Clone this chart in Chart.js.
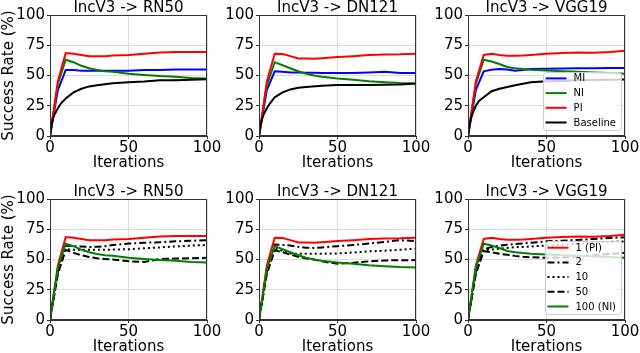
<!DOCTYPE html>
<html>
<head>
<meta charset="utf-8">
<script src="https://cdn.jsdelivr.net/npm/chart.js@4/dist/chart.umd.min.js"></script>
<style>
  html, body { margin: 0; padding: 0; background: #fff; width: 640px; height: 353px; overflow: hidden; }
  canvas { position: absolute; }
</style>
</head>
<body>
<script>
// --- Data ---
const targets = ['RN50', 'DN121', 'VGG19'];
const itersAttack = [0, 5, 10, 15, 20, 25, 30, 35, 40, 50, 60, 70, 80, 90, 100];
const itersBase = [0, 1, 2, 3, 5, 7, 10, 15, 20, 25, 30, 40, 50, 60, 70, 80, 90, 100];
const xTicks = [0, 50, 100];
const yTicks = [0, 25, 50, 75, 100];

// top row: MI / NI / PI / Baseline
const miRN50 = [0, 38, 54.5, 54.5, 54, 54, 54, 54, 54, 54, 54.5, 54.5, 55, 55, 55];
const niRN50 = [0, 43, 63, 61, 58, 56, 54.5, 53.5, 53, 51.5, 50.5, 49.5, 49, 48, 47.5];
const piRN50 = [0, 45, 68.5, 68, 67, 66, 66, 66, 66.5, 67, 68, 69, 69.5, 69.5, 69.5];
const baseRN50 = [0, 9, 15, 18, 23, 27, 31, 36, 39, 41, 42, 43.5, 44.5, 45, 46, 46, 46.5, 47];

const miDN121 = [0, 38, 53.5, 53, 52.5, 52.5, 52.3, 52.3, 52, 52, 52, 52.5, 53, 52, 52];
const niDN121 = [0, 42, 61, 58.5, 56, 53.5, 51.5, 50, 49, 47.5, 46.5, 45.3, 44.5, 43.7, 43.3];
const piDN121 = [0, 45, 68, 67.7, 66, 64, 64, 63.8, 64.2, 65.2, 66, 67, 67.3, 67.5, 68];
const baseDN121 = [0, 9, 14, 18, 23, 27, 32, 36, 38.5, 39.8, 40.5, 41.5, 42.2, 42.2, 42.2, 42.4, 42.5, 43.3];

const miVGG19 = [0, 38, 53.5, 54.8, 55.3, 55, 54, 54.5, 55.3, 55.6, 55.8, 56, 56, 56.2, 56.2];
const niVGG19 = [0, 43, 63, 61.5, 59.5, 57, 56, 55.3, 54.8, 54.2, 53.5, 53, 52.5, 52, 51.5];
const piVGG19 = [0, 45, 67, 67.9, 67, 66.3, 66.3, 66.5, 67, 68, 68.5, 69, 68.8, 69.5, 70.5];
const baseVGG19 = [0, 9, 15, 19, 25, 29, 32, 37, 39, 40.5, 42, 44.4, 45.2, 45.5, 46, 46.2, 46.4, 46.6];

// bottom row: step counts 2 / 10 / 50 (1 = PI, 100 = NI)
const s2RN50 = [0, 40, 61.5, 61, 60.7, 60.4, 60.5, 61, 62, 63.2, 63.8, 64.3, 65, 65.5, 65.9];
const s10RN50 = [0, 40, 58.5, 58, 58, 58, 58, 58, 58.2, 58.5, 59.3, 60, 60.8, 61.5, 62];
const s50RN50 = [0, 38, 58, 55.5, 53.5, 52, 51, 50.5, 50, 48.5, 48, 50.3, 50.8, 51, 51.4];

const s2DN121 = [0, 40, 62.4, 62, 61.5, 60.5, 59.8, 59.6, 60, 61, 62, 63.2, 64.5, 66, 65.1];
const s10DN121 = [0, 40, 59.6, 57, 55, 54.7, 54.7, 54.8, 54.8, 55, 55.8, 56.7, 57.3, 58, 59];
const s50DN121 = [0, 38, 57.7, 56, 54, 52.3, 50.8, 50, 48.5, 46.4, 47.3, 48.5, 49.2, 49.4, 49.5];

const s2VGG19 = [0, 40, 58.2, 60.4, 61.5, 62.2, 62.8, 63.2, 63.8, 65, 65.5, 66.2, 67, 67.8, 68.4];
const s10VGG19 = [0, 40, 57.7, 58.3, 59, 59.6, 60.2, 60.4, 60.8, 61.5, 62.2, 63, 63.8, 64.5, 65];
const s50VGG19 = [0, 38, 56.9, 56, 54.7, 54, 53, 52.2, 51.8, 51.4, 51.7, 52.5, 53.5, 54.5, 55.5];

const topSeries = {
  RN50: [miRN50, niRN50, piRN50, baseRN50],
  DN121: [miDN121, niDN121, piDN121, baseDN121],
  VGG19: [miVGG19, niVGG19, piVGG19, baseVGG19]
};
const bottomSeries = {
  RN50: [piRN50, s2RN50, s10RN50, s50RN50, niRN50],
  DN121: [piDN121, s2DN121, s10DN121, s50DN121, niDN121],
  VGG19: [piVGG19, s2VGG19, s10VGG19, s50VGG19, niVGG19]
};

const topLabels = ['MI', 'NI', 'PI', 'Baseline'];
const bottomLabels = ['1 (PI)', '2', '10', '50', '100 (NI)'];

// --- Styles ---
const FONT = "'DejaVu Sans', sans-serif";
const topStyles = [
  { color: '#0000ff', dash: [] },
  { color: '#008000', dash: [] },
  { color: '#ff0000', dash: [] },
  { color: '#000000', dash: [] }
];
const bottomStyles = [
  { color: '#ff0000', dash: [] },
  { color: '#000000', dash: [7, 3, 2, 3] },
  { color: '#000000', dash: [2, 3] },
  { color: '#000000', dash: [7, 3] },
  { color: '#008000', dash: [] }
];

const plotLefts = [50, 259, 468];
const plotTops = [15, 199];
const plotW = 157, plotH = 121;
const yAxisW = 50, xAxisH = 36, titleH = 16, rightPad = 18;

const framePlugin = {
  id: 'frame',
  afterDatasetsDraw(chart) {
    const a = chart.chartArea, ctx = chart.ctx;
    ctx.save();
    ctx.strokeStyle = '#333';
    ctx.lineWidth = 1;
    ctx.strokeRect(Math.round(a.left) + 0.5, Math.round(a.top) + 0.5,
      Math.round(a.right - a.left) - 1, Math.round(a.bottom - a.top) - 1);
    ctx.restore();
  }
};

function titlePlugin(text) {
  return {
    id: 'panelTitle',
    afterDraw(chart) {
      const a = chart.chartArea, ctx = chart.ctx;
      ctx.save();
      ctx.font = '15px ' + FONT;
      ctx.fillStyle = '#000';
      ctx.textAlign = 'center';
      ctx.textBaseline = 'alphabetic';
      ctx.fillText(text, (a.left + a.right) / 2, a.top - 3);
      ctx.restore();
    }
  };
}

function legendPlugin(labels, styles) {
  return {
    id: 'boxLegend',
    afterDraw(chart) {
      const a = chart.chartArea, ctx = chart.ctx;
      ctx.save();
      ctx.font = '10px ' + FONT;
      const rowH = 14.7, padL = 3, handle = 21, gap = 7, padR = 5;
      const textW = Math.max(...labels.map(l => ctx.measureText(l).width));
      const w = padL + handle + gap + textW + padR;
      const h = (labels.length - 1) * rowH + 14;
      const x = a.right - 4 - w, y = a.bottom - 6 - h;
      ctx.beginPath();
      ctx.roundRect(Math.round(x) + 0.5, Math.round(y) + 0.5, Math.round(w), Math.round(h), 3);
      ctx.fillStyle = 'rgba(255,255,255,0.8)';
      ctx.fill();
      ctx.strokeStyle = '#cccccc';
      ctx.lineWidth = 1;
      ctx.stroke();
      labels.forEach((l, i) => {
        const cy = y + 6.5 + i * rowH;
        ctx.beginPath();
        ctx.setLineDash(styles[i].dash);
        ctx.strokeStyle = styles[i].color;
        ctx.lineWidth = 2;
        ctx.moveTo(x + padL, cy);
        ctx.lineTo(x + padL + handle, cy);
        ctx.stroke();
        ctx.setLineDash([]);
        ctx.fillStyle = '#000';
        ctx.textAlign = 'left';
        ctx.textBaseline = 'middle';
        ctx.fillText(l, x + padL + handle + gap, cy + 0.5);
      });
      ctx.restore();
    }
  };
}

function makeChart(row, col) {
  const target = targets[col];
  const series = row === 0 ? topSeries[target] : bottomSeries[target];
  const styles = row === 0 ? topStyles : bottomStyles;
  const labels = row === 0 ? topLabels : bottomLabels;

  const canvas = document.createElement('canvas');
  const w = yAxisW + plotW + rightPad, h = titleH + plotH + xAxisH;
  canvas.width = w; canvas.height = h;
  canvas.style.left = (plotLefts[col] - yAxisW) + 'px';
  canvas.style.top = (plotTops[row] - titleH) + 'px';
  canvas.style.width = w + 'px'; canvas.style.height = h + 'px';
  document.body.appendChild(canvas);

  const datasets = series.map((ys, i) => {
    const xs = (row === 0 && i === 3) ? itersBase : itersAttack;
    return {
      label: labels[i],
      data: xs.map((x, k) => ({ x: x, y: ys[k] })),
      borderColor: styles[i].color,
      borderDash: styles[i].dash,
      borderWidth: 2,
      pointRadius: 0,
      tension: 0,
      fill: false,
      order: series.length - i
    };
  });

  const plugins = [framePlugin, titlePlugin('IncV3 -> ' + target)];
  if (col === 2) plugins.push(legendPlugin(labels, styles));

  new Chart(canvas.getContext('2d'), {
    type: 'line',
    data: { datasets },
    plugins,
    options: {
      responsive: false,
      animation: false,
      devicePixelRatio: 1,
      layout: { padding: { top: titleH, right: rightPad, left: 0, bottom: 0 } },
      plugins: { legend: { display: false }, tooltip: { enabled: false } },
      scales: {
        x: {
          type: 'linear', min: 0, max: 100,
          afterFit: s => { s.height = xAxisH; },
          afterBuildTicks: s => { s.ticks = xTicks.map(v => ({ value: v })); },
          ticks: { color: '#000', font: { family: FONT, size: 15 }, padding: 0, maxRotation: 0 },
          grid: { color: '#dddddd', tickColor: '#333', tickLength: 3, lineWidth: 1 },
          border: { color: '#333' },
          title: { display: true, text: 'Iterations', color: '#000', font: { family: FONT, size: 15 }, padding: { top: 0, bottom: 0 } }
        },
        y: {
          min: 0, max: 100,
          afterFit: s => { s.width = yAxisW; },
          afterBuildTicks: s => { s.ticks = yTicks.map(v => ({ value: v })); },
          ticks: { color: '#000', font: { family: FONT, size: 15 }, padding: 2 },
          grid: { color: '#dddddd', tickColor: '#333', tickLength: 3, lineWidth: 1 },
          border: { color: '#333' },
          title: { display: col === 0, text: 'Success Rate (%)', color: '#000', font: { family: FONT, size: 15 }, padding: 0 }
        }
      }
    }
  });
}

for (let r = 0; r < 2; r++) {
  for (let c = 0; c < 3; c++) makeChart(r, c);
}
</script>
</body>
</html>
